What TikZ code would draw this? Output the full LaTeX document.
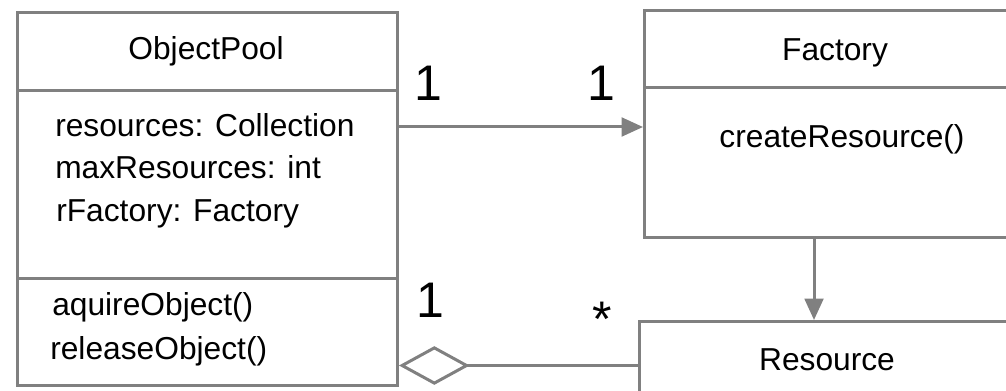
\documentclass[tikz,border=0pt]{standalone}
\usepackage{fontspec}
\setmainfont{Liberation Sans}
\usetikzlibrary{arrows.meta}
\definecolor{linegray}{HTML}{808080}
\begin{document}
\begin{tikzpicture}[x=0.75pt,y=-0.75pt,
  box/.style={draw=linegray, line width=2.25pt, rectangle, inner sep=0pt, anchor=north west},
  txt/.style={font=\fontsize{23.8}{28}\selectfont, inner sep=0pt, text=black},
  mult/.style={font=\fontsize{37.5}{40}\selectfont, inner sep=0pt, text=black, anchor=base},
  conn/.style={draw=linegray, line width=2.25pt},
  tri/.style={-{Triangle[length=16pt,width=14pt]}},
]
\useasboundingbox (0,0) rectangle (1006,391);
\clip (0,0) rectangle (1006,391);

% ObjectPool
\node[box, minimum width=285pt, minimum height=58.5pt] (opname) at (16,11) {};
\node[box, minimum width=285pt, minimum height=141pt] (opattr) at (16,89) {};
\node[box, minimum width=285pt, minimum height=80.25pt] (opops) at (16,277) {};
\node[txt, anchor=base] (opt) at (206,60) {ObjectPool};
\node[txt, anchor=base west] (a1t) at (55,137) {resources: Collection};
\node[txt, anchor=base west] (a2t) at (55,179) {maxResources: int};
\node[txt, anchor=base west] (a3t) at (56,222) {rFactory: Factory};
\node[txt, anchor=base west] (o1t) at (52,316) {aquireObject()};
\node[txt, anchor=base west] (o2t) at (50,359) {releaseObject()};

% Factory
\node[box, minimum width=292.5pt, minimum height=57.75pt] (fname) at (643,9) {};
\node[box, minimum width=292.5pt, minimum height=112.5pt] (fbody) at (643,86) {};
\node[txt, anchor=base] (ft) at (835,61) {Factory};
\node[txt, anchor=base] (fm) at (842,148) {createResource()};

% Resource
\node[box, minimum width=283.5pt, minimum height=66pt] (res) at (638,320) {};
\node[txt, anchor=base] (rt) at (827,371) {Resource};

% connectors
\coordinate (c1) at ([yshift=-28.5pt]opattr.north east);
\draw[conn, tri] (c1) -- (c1 -| fbody.west);
\coordinate (c2) at ([xshift=128.25pt]fbody.south west);
\draw[conn, tri] (c2) -- (c2 |- res.north);
\draw[conn, {Diamond[open,length=53pt,width=29pt]}-] (res.west -| opops.east) -- (res.west);

% multiplicities
\node[mult] (m1) at (428,101) {1};
\node[mult] (m2) at (601,101) {1};
\node[mult] (m3) at (430,318) {1};
\node[mult] (m4) at (602,337) {*};
\end{tikzpicture}
\end{document}
